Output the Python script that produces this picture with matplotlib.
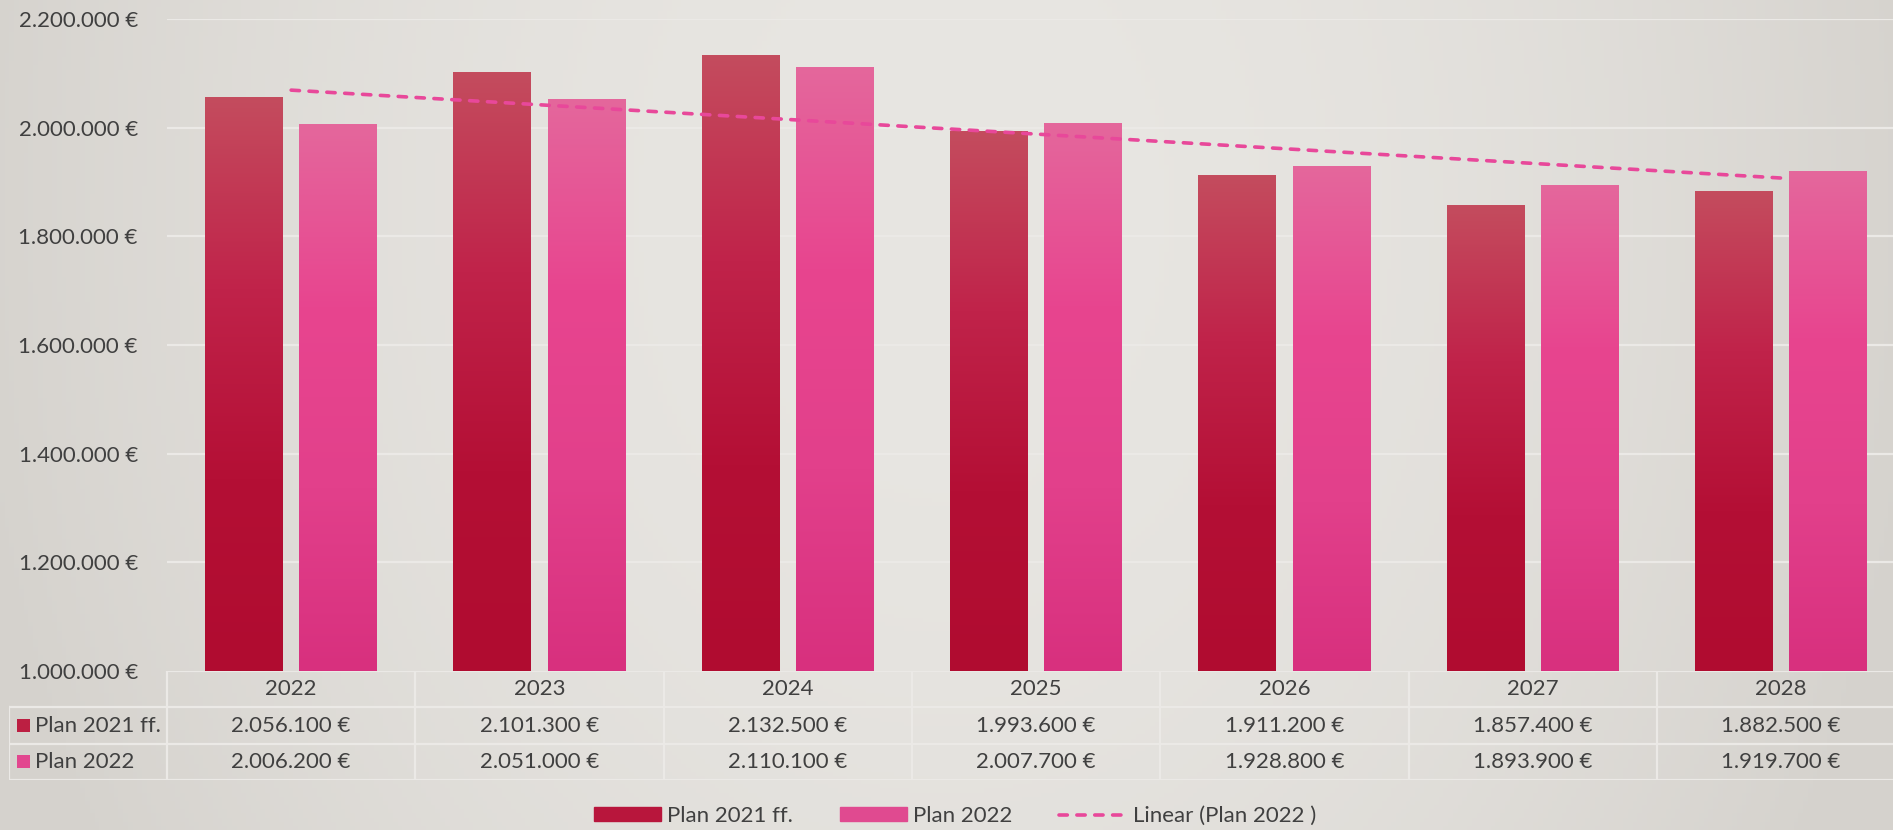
import numpy as np
import matplotlib
matplotlib.use("Agg")
import matplotlib.pyplot as plt
from matplotlib.colors import LinearSegmentedColormap
from matplotlib.patches import Rectangle
from matplotlib.lines import Line2D

plt.rcParams['font.family'] = ['Lato', 'DejaVu Sans']

jahre = ['2022', '2023', '2024', '2025', '2026', '2027', '2028']
plan_2021 = [2056100, 2101300, 2132500, 1993600, 1911200, 1857400, 1882500]
plan_2022 = [2006200, 2051000, 2110100, 2007700, 1928800, 1893900, 1919700]
y_ticks = [1000000, 1200000, 1400000, 1600000, 1800000, 2000000, 2200000]
reihen = ['Plan 2021 ff.', 'Plan 2022']

text_farbe = '#404040'
gitter_farbe = '#ebe9e6'


def euro(v):
    return f"{v:,.0f} €".replace(',', '.')


W, H = 1893, 830
fig = plt.figure(figsize=(W / 100, H / 100), dpi=100)

# hintergrund mit leichtem verlauf
bg = fig.add_axes([0, 0, 1, 1])
xx, yy = np.meshgrid(np.linspace(-1, 1, 400), np.linspace(0, 1, 200))
hell = np.clip(1 - (xx ** 2) * 0.9 - (yy - 0.25) ** 2 * 0.4, 0, 1)
c_dunkel = np.array([213, 210, 205]) / 255
c_hell = np.array([232, 230, 226]) / 255
bild = c_dunkel + (c_hell - c_dunkel) * hell[..., None]
bg.imshow(bild, aspect='auto', extent=[0, 1, 0, 1], origin='upper')
bg.set_axis_off()

# achsen: links 167px, spaltenbreite 248.3px
spalte = 248.3
links = 167
ax_l = links / W
ax_w = 7 * spalte / W
ax_b = 1 - 671 / H
ax_h = (671 - 19) / H
ax = fig.add_axes([ax_l, ax_b, ax_w, ax_h])
ax.set_facecolor('none')
ax.set_xlim(-0.5, 6.5)
ax.set_ylim(1000000, 2200000)

for s in ax.spines.values():
    s.set_visible(False)
ax.set_yticks(y_ticks)
ax.set_yticklabels([euro(v) for v in y_ticks], fontsize=16, color=text_farbe)
ax.tick_params(axis='y', length=0, pad=21)
ax.set_xticks([])
for v in y_ticks[1:]:
    ax.axhline(v, color=gitter_farbe, lw=1.6, zorder=0)

cmap_a = LinearSegmentedColormap.from_list('a', ['#c44c5e', '#c0234a', '#b40f35', '#b00c30'])
cmap_b = LinearSegmentedColormap.from_list('b', ['#e4679c', '#e8458f', '#e2408b', '#d8307e'])

x = np.arange(len(jahre))
breite = 0.313
versatz = 0.19
verlauf = np.linspace(0, 1, 256)[:, None]
for werte, dx, cmap in [(plan_2021, -versatz, cmap_a), (plan_2022, versatz, cmap_b)]:
    for xi, v in zip(x, werte):
        x0 = xi + dx - breite / 2
        ax.imshow(verlauf, cmap=cmap, aspect='auto', origin='upper',
                  extent=[x0, x0 + breite, 1000000, v], zorder=2)
ax.set_xlim(-0.5, 6.5)
ax.set_ylim(1000000, 2200000)

# lineare trendlinie fuer plan 2022
k, d = np.polyfit(x, plan_2022, 1)
trend_farbe = '#e8489a'
ax.plot(x, k * x + d, color=trend_farbe, lw=2.6, ls=(0, (2.3, 2.65)),
        dash_capstyle='round', zorder=3)

# datentabelle unter dem diagramm
tab_l = 9
tab = fig.add_axes([tab_l / W, 1 - 780 / H, (links + 7 * spalte - tab_l) / W, (780 - 671) / H])
tab.set_facecolor('none')
tab.set_axis_off()
tab.set_xlim(-0.5 - (links - tab_l) / spalte, 6.5)
tab.set_ylim(3, 0)
x_lab = -0.5 - (links - tab_l) / spalte
zeilen_y = [0, 1.0, 2.0, 3.0]
lw_tab = 1.6
tab.plot([-0.5, 6.5], [0, 0], color=gitter_farbe, lw=lw_tab)
for yv in zeilen_y[1:]:
    tab.plot([x_lab, 6.5], [yv, yv], color=gitter_farbe, lw=lw_tab)
tab.plot([x_lab, x_lab], [1, 3], color=gitter_farbe, lw=lw_tab)
for i in range(len(jahre) + 1):
    tab.plot([i - 0.5, i - 0.5], [0, 3], color=gitter_farbe, lw=lw_tab)
for i, j in enumerate(jahre):
    tab.text(i, 0.5, j, ha='center', va='center', fontsize=16, color=text_farbe)
    tab.text(i, 1.5, euro(plan_2021[i]), ha='center', va='center', fontsize=16, color=text_farbe)
    tab.text(i, 2.5, euro(plan_2022[i]), ha='center', va='center', fontsize=16, color=text_farbe)
marker_farben = ['#bc1f42', '#e2478f']
for r, (name, mf) in enumerate(zip(reihen, marker_farben)):
    tab.add_patch(Rectangle((x_lab + 8 / spalte, r + 1.5 - 0.18), 13 / spalte, 0.36,
                            color=mf, lw=0))
    tab.text(x_lab + 26 / spalte, r + 1.5, name, ha='left', va='center',
             fontsize=16, color=text_farbe)

# legende
handles = [Rectangle((0, 0), 1, 1, color='#b8163c'),
           Rectangle((0, 0), 1, 1, color='#e04a90'),
           Line2D([], [], color=trend_farbe, lw=2.6, ls=(0, (2.3, 2.65)), dash_capstyle='round')]
fig.legend(handles, ['Plan 2021 ff.', 'Plan 2022', 'Linear (Plan 2022 )'],
           loc='center', bbox_to_anchor=(955 / W, 1 - 816 / H), ncol=3, frameon=False,
           fontsize=16, labelcolor=text_farbe, handlelength=3.0, handleheight=0.6,
           handletextpad=0.3, columnspacing=2.1)

fig.savefig('out.png', dpi=100)
